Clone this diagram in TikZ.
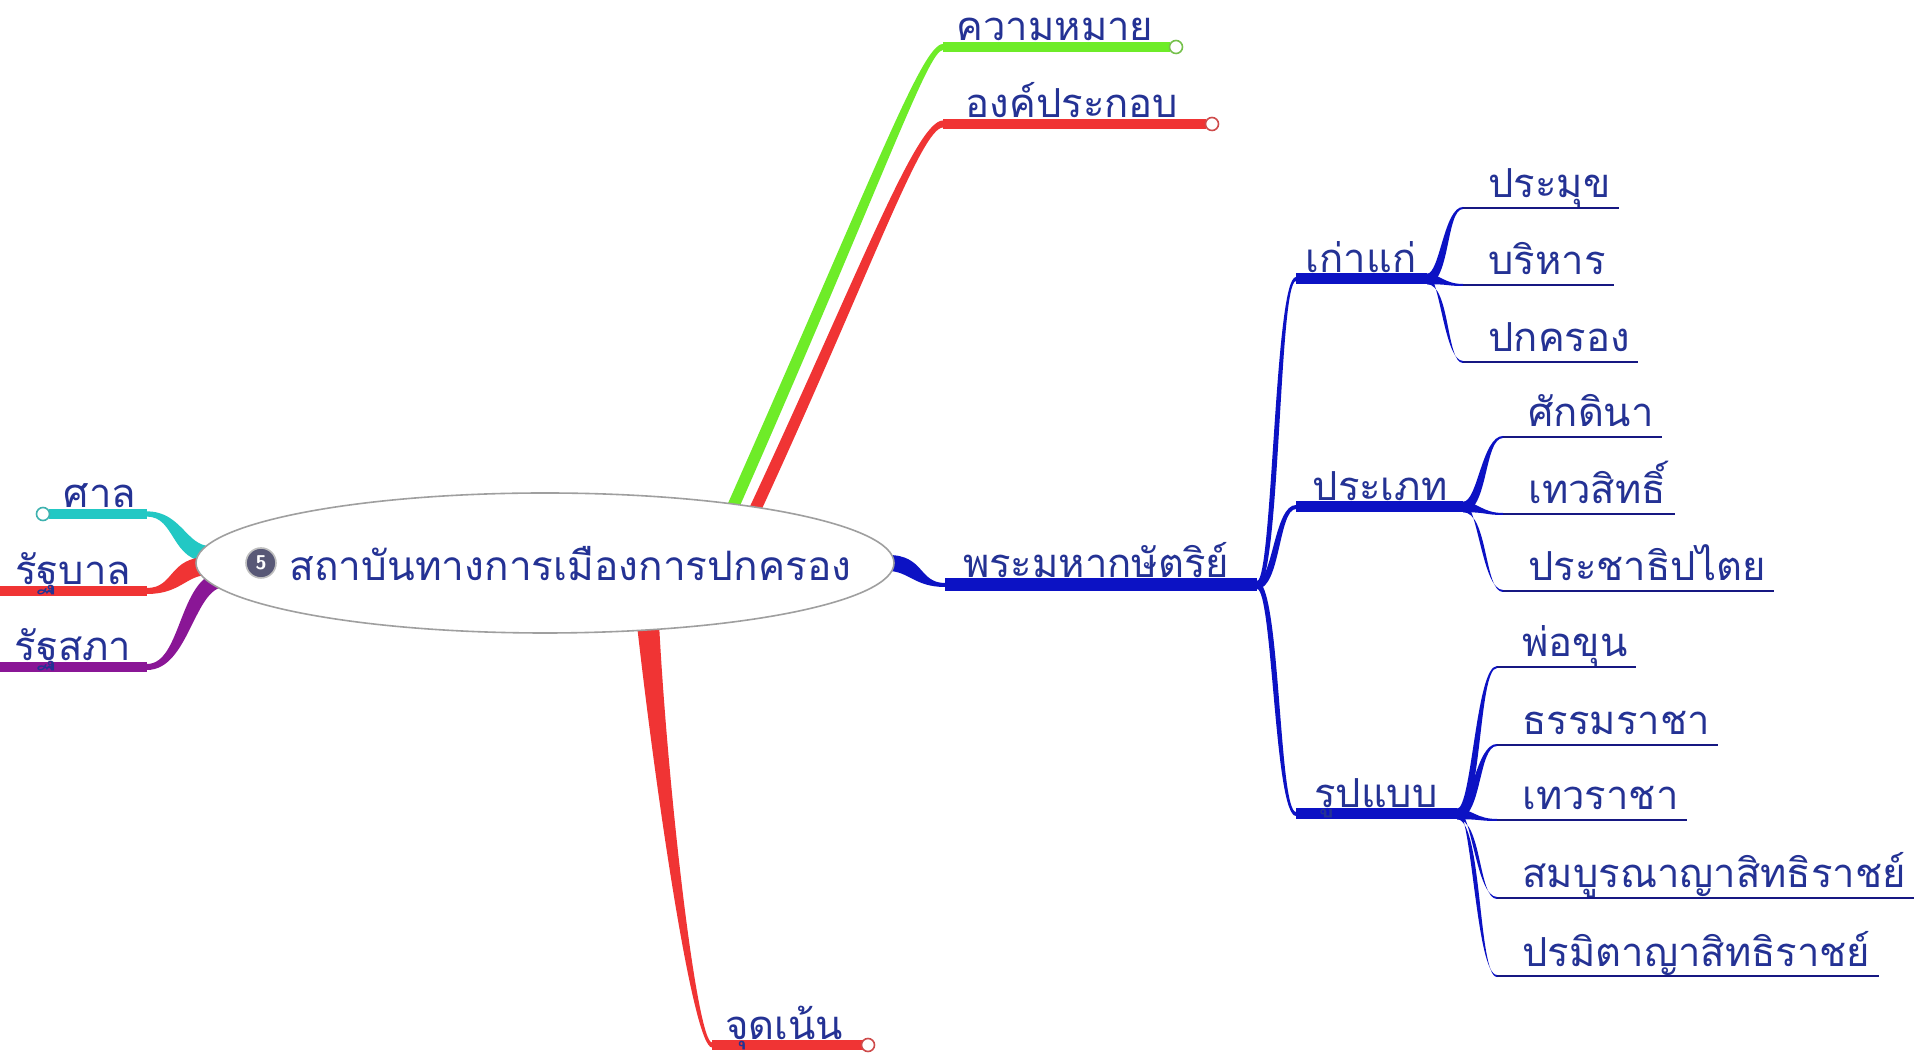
\documentclass[tikz,border=0pt]{standalone}
\usepackage{fontspec}
\newfontfamily\thai[Script=Thai]{Loma}
\usetikzlibrary{shapes.geometric,calc}
\definecolor{cgreen}{RGB}{110,236,40}
\definecolor{cred}{RGB}{240,52,52}
\definecolor{cteal}{RGB}{34,200,196}
\definecolor{cpurple}{RGB}{138,22,150}
\definecolor{cblue}{RGB}{12,18,196}
\definecolor{cleaf}{RGB}{22,24,130}
\definecolor{ctext}{RGB}{36,50,148}
% tapered link: #1 start, #2 end, #3 start half width, #4 end half width, #5 sign (1 = end above), #6 colour
\newcommand{\tlink}[6]{%
  \fill[#6] let \p1=(#1), \p2=(#2), \p3=($(#1)!0.5!(#2)$) in
   (\x1,{\y1+#3}) .. controls ({\x3-(#5)*#3},{\y1+#3}) and ({\x3-(#5)*#4},{\y2+#4}) .. (\x2,{\y2+#4})
   -- (\x2,{\y2-#4}) .. controls ({\x3+(#5)*#4},{\y2-#4}) and ({\x3+(#5)*#3},{\y1-#3}) .. (\x1,{\y1-#3}) -- cycle;}
\begin{document}
\begin{tikzpicture}[x=0.5pt,y=0.5pt,
  lbl/.style={font=\thai\fontsize{20}{20}\selectfont, text=ctext, inner sep=0pt},
  bar/.style={line width=5pt, line cap=butt},
  leafline/.style={cleaf, line width=1pt},
  endmark/.style={circle, draw=#1, fill=white, line width=0.8pt, minimum size=6.5pt, inner sep=0pt},
]
\fill[white] (0,0) rectangle (1920,1054);
\useasboundingbox (0,0) rectangle (1920,1054);

% ---- coordinates
\coordinate (g0) at (732,545);  \coordinate (g3) at (943,1007); \coordinate (g4) at (1170,1007);
\coordinate (r0) at (753,540);  \coordinate (r3) at (943,930);  \coordinate (r4) at (1206,930);
\coordinate (b0) at (648,430);  \coordinate (b3) at (712,9);    \coordinate (b4) at (863,9);
\coordinate (lt1) at (49,540);  \coordinate (lt2) at (147,540); \coordinate (et) at (210,500);
\coordinate (lr1) at (0,463);   \coordinate (lr2) at (147,463); \coordinate (er) at (208,488);
\coordinate (lp1) at (0,387);   \coordinate (lp2) at (147,387); \coordinate (ep) at (225,475);
\coordinate (e1) at (888,491);  \coordinate (mb0) at (945,469); \coordinate (m1) at (1257,469);
\coordinate (s1) at (1296,775); \coordinate (f1) at (1427,775);
\coordinate (s2) at (1296,547); \coordinate (f2) at (1463,547);
\coordinate (s3) at (1296,240); \coordinate (f3) at (1457,240);

% ---- connectors to hub
\fill[cgreen] ($(g0)+(-5.5,2.4)$) .. controls (875,882) and (922,1010) .. ($(g3)+(0,3)$)
   -- ($(g3)+(0,-3)$) .. controls (928,1004) and (885,878) .. ($(g0)+(5.5,-2.4)$) -- cycle;
\fill[cred] ($(r0)+(-5.4,2.5)$) .. controls (860,783) and (916,933.5) .. ($(r3)+(0,3.5)$)
   -- ($(r3)+(0,-3.5)$) .. controls (921,926.5) and (869,777) .. ($(r0)+(5.4,-2.5)$) -- cycle;
\fill[cred] ($(b0)+(-11,-1)$) .. controls (656,260) and (693,6.5) .. ($(b3)+(0,-2.5)$)
   -- ($(b3)+(0,2.5)$) .. controls (697,11.5) and (668,260) .. ($(b0)+(11,1)$) -- cycle;
\tlink{lt2}{et}{1.3pt}{4pt}{-1}{cteal}
\tlink{lr2}{er}{1.5pt}{4.5pt}{1}{cred}
\tlink{lp2}{ep}{1.5pt}{4pt}{1}{cpurple}
\tlink{e1}{mb0}{4pt}{1pt}{-1}{cblue}
\tlink{m1}{s1}{2pt}{1pt}{1}{cblue}
\tlink{m1}{s2}{2pt}{1pt}{1}{cblue}
\tlink{m1}{s3}{2pt}{1pt}{-1}{cblue}

% ---- bars
\draw[bar, cgreen] (g3) -- (g4);
\draw[bar, cred] (r3) -- (r4);
\draw[bar, cred] (b3) -- (b4);
\draw[bar, cteal] (lt1) -- (lt2);
\draw[bar, cred] (lr1) -- (lr2);
\draw[bar, cpurple] (lp1) -- (lp2);
\draw[bar, cblue, line width=6.5pt] (mb0) -- (m1);
\draw[bar, cblue, line width=5.5pt] (s1) -- (f1);
\draw[bar, cblue, line width=5.5pt] (s2) -- (f2);
\draw[bar, cblue, line width=5.5pt] (s3) -- (f3);

\node[endmark=cgreen!60!gray] (k1) at (1176,1007) {};
\node[endmark=cred!70!gray] (k2) at (1212,930) {};
\node[endmark=cred!70!gray] (k3) at (868,9) {};
\node[endmark=cteal!70!gray] (k4) at (43,540) {};

% ---- hub
\node[ellipse, draw=gray!75, fill=white, line width=0.8pt, minimum width=349pt, minimum height=70pt, inner sep=0pt] (hub) at (545,491) {};
\node[circle, fill={rgb,255:red,88;green,88;blue,118}, draw=gray!50, line width=0.8pt, minimum size=15pt, inner sep=0pt,
      text=white, font=\sffamily\bfseries\fontsize{10}{10}\selectfont] (badge) at (261,491) {5};
\node[lbl, anchor=base west, font=\thai\fontsize{20.3}{20.3}\selectfont] (title) at (289,473) {สถาบันทางการเมืองการปกครอง};

% ---- branch labels
\node[lbl, anchor=base] (kwam) at (1055,1013) {ความหมาย};
\node[lbl, anchor=base] (ong) at (1072,936) {องค์ประกอบ};
\node[lbl, anchor=base] (sal) at (100,546) {ศาล};
\node[lbl, anchor=base] (rb) at (73,469) {รัฐบาล};
\node[lbl, anchor=base] (rs) at (73,393) {รัฐสภา};
\node[lbl, anchor=base] (jud) at (784,15) {จุดเน้น};
\node[lbl, anchor=base] (king) at (1096,476) {พระมหากษัตริย์};
\node[lbl, anchor=base] (kao) at (1361,781) {เก่าแก่};
\node[lbl, anchor=base] (pra) at (1380,553) {ประเภท};
\node[lbl, anchor=base] (rup) at (1376,246) {รูปแบบ};

% ---- leaves
\foreach \nm/\fk/\sx/\tx/\ly/\txt in {
   a1/f1/1463/1488/846/ประมุข, a2/f1/1463/1488/769/บริหาร, a3/f1/1463/1488/692/ปกครอง,
   b1/f2/1503/1528/617/ศักดินา, b2/f2/1503/1528/540/เทวสิทธิ์, b3/f2/1503/1528/463/ประชาธิปไตย,
   c1/f3/1497/1522/387/พ่อขุน, c2/f3/1497/1522/309/ธรรมราชา, c3/f3/1497/1522/234/เทวราชา,
   c4/f3/1497/1522/156/สมบูรณาญาสิทธิราชย์, c5/f3/1497/1522/78/ปรมิตาญาสิทธิราชย์} {
  \node[lbl, anchor=base west] (t\nm) at (\tx,\ly+10) {\txt};
  \coordinate (p\nm) at (\sx,\ly);
  \tlink{\fk}{p\nm}{2.6pt}{0.5pt}{1}{cblue}
  \draw[leafline] (p\nm) -- ($(p\nm -| t\nm.east)+(8,0)$);
}
\end{tikzpicture}
\end{document}
